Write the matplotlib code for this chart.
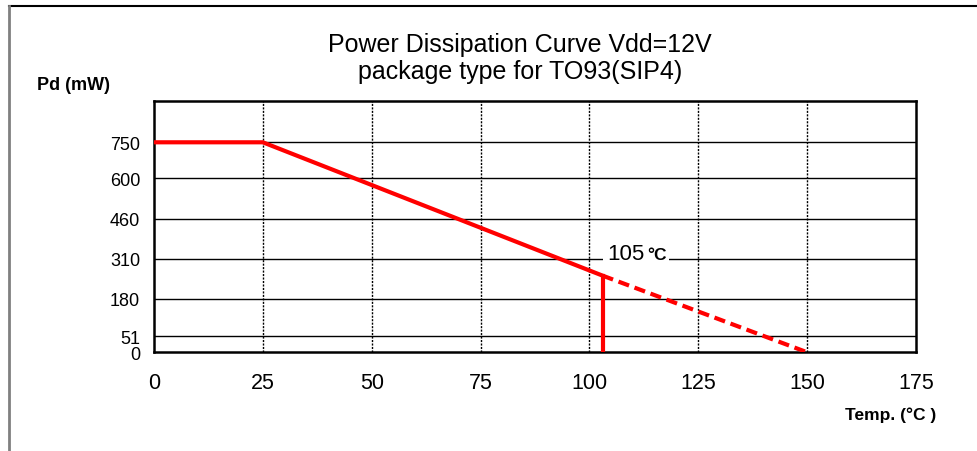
import numpy as np
import matplotlib
matplotlib.use("Agg")
import matplotlib.pyplot as plt
from matplotlib.lines import Line2D

plt.rcParams['font.family'] = ['Liberation Sans', 'DejaVu Sans']

# y axis of the datasheet is not linear: tick values sit at fixed heights
y_ticks = [0, 51, 180, 310, 460, 600, 750]
y_tick_pos = [0, 16, 53.3, 93.3, 133.3, 174, 210]   # px above the axis bottom
y_top, y_top_pos = 920, 251.6

x_ticks = [0, 25, 50, 75, 100, 125, 150, 175]

# curve
curve_x = [0, 25, 103]
curve_y = [750, 750, 256]
derate_x = [103, 150]
derate_y = [256, 0]
cut_x = [103, 103]
cut_y = [256, 0]

knot_v = np.array(y_ticks + [y_top], dtype=float)
knot_p = np.array(y_tick_pos + [y_top_pos], dtype=float)


def fwd(v):
    return np.interp(v, knot_v, knot_p)


def inv(p):
    return np.interp(p, knot_p, knot_v)


fig = plt.figure(figsize=(9.77, 4.52), dpi=100)
ax = fig.add_axes([0.1576, 0.2184, 0.78, 0.5566])
ax.set_yscale('function', functions=(fwd, inv))
ax.set_xlim(0, 174)
ax.set_ylim(0, y_top)

# grid
for v in y_ticks[1:]:
    ax.axhline(v, color='black', lw=1.0, zorder=1)
for x in x_ticks[1:-1]:
    ax.axvline(x, color='black', lw=1.0, ls=(0, (1.5, 1)), zorder=1)

ax.plot(curve_x, curve_y, color='red', lw=3, zorder=3, clip_on=False,
        solid_capstyle='butt')
ax.plot(derate_x, derate_y, color='red', lw=3, ls=(0, (2.7, 1.4)), zorder=3)
ax.plot(cut_x, cut_y, color='red', lw=3, zorder=3)

ax.text(104, 329, '105', fontsize=16, ha='left', va='center', zorder=2,
        bbox=dict(facecolor='white', edgecolor='none', pad=3))
ax.text(113.2, 327, '°C', fontsize=12.5, fontweight='bold', ha='left',
        va='center', zorder=2,
        bbox=dict(facecolor='white', edgecolor='none', pad=2))

ax.set_xticks(x_ticks)
ax.set_xticklabels([str(x) for x in x_ticks], fontsize=15.5)
ax.set_yticks(y_ticks)
ax.set_yticklabels([str(v) for v in y_ticks], fontsize=13)
ax.tick_params(axis='x', length=0, pad=14)
ax.tick_params(axis='y', length=0, pad=10)
ax.minorticks_off()
for s in ax.spines.values():
    s.set_linewidth(1.8)
    s.set_color('black')

fig.text(0.532, 0.90, 'Power Dissipation Curve Vdd=12V', fontsize=18,
         ha='center', va='center')
fig.text(0.532, 0.84, 'package type for TO93(SIP4)', fontsize=18,
         ha='center', va='center')
fig.text(0.038, 0.81, 'Pd (mW)', fontsize=13, fontweight='bold',
         ha='left', va='center')
fig.text(0.865, 0.082, 'Temp. (°C )', fontsize=12.5, fontweight='bold',
         ha='left', va='center')

# frame of the original picture
fig.add_artist(Line2D([0.0095, 1.0], [0.985, 0.985], color='black', lw=1.5))
fig.add_artist(Line2D([0.0095, 0.0095], [0.0, 0.985], color='grey', lw=2))

fig.savefig('out.png', dpi=100)
